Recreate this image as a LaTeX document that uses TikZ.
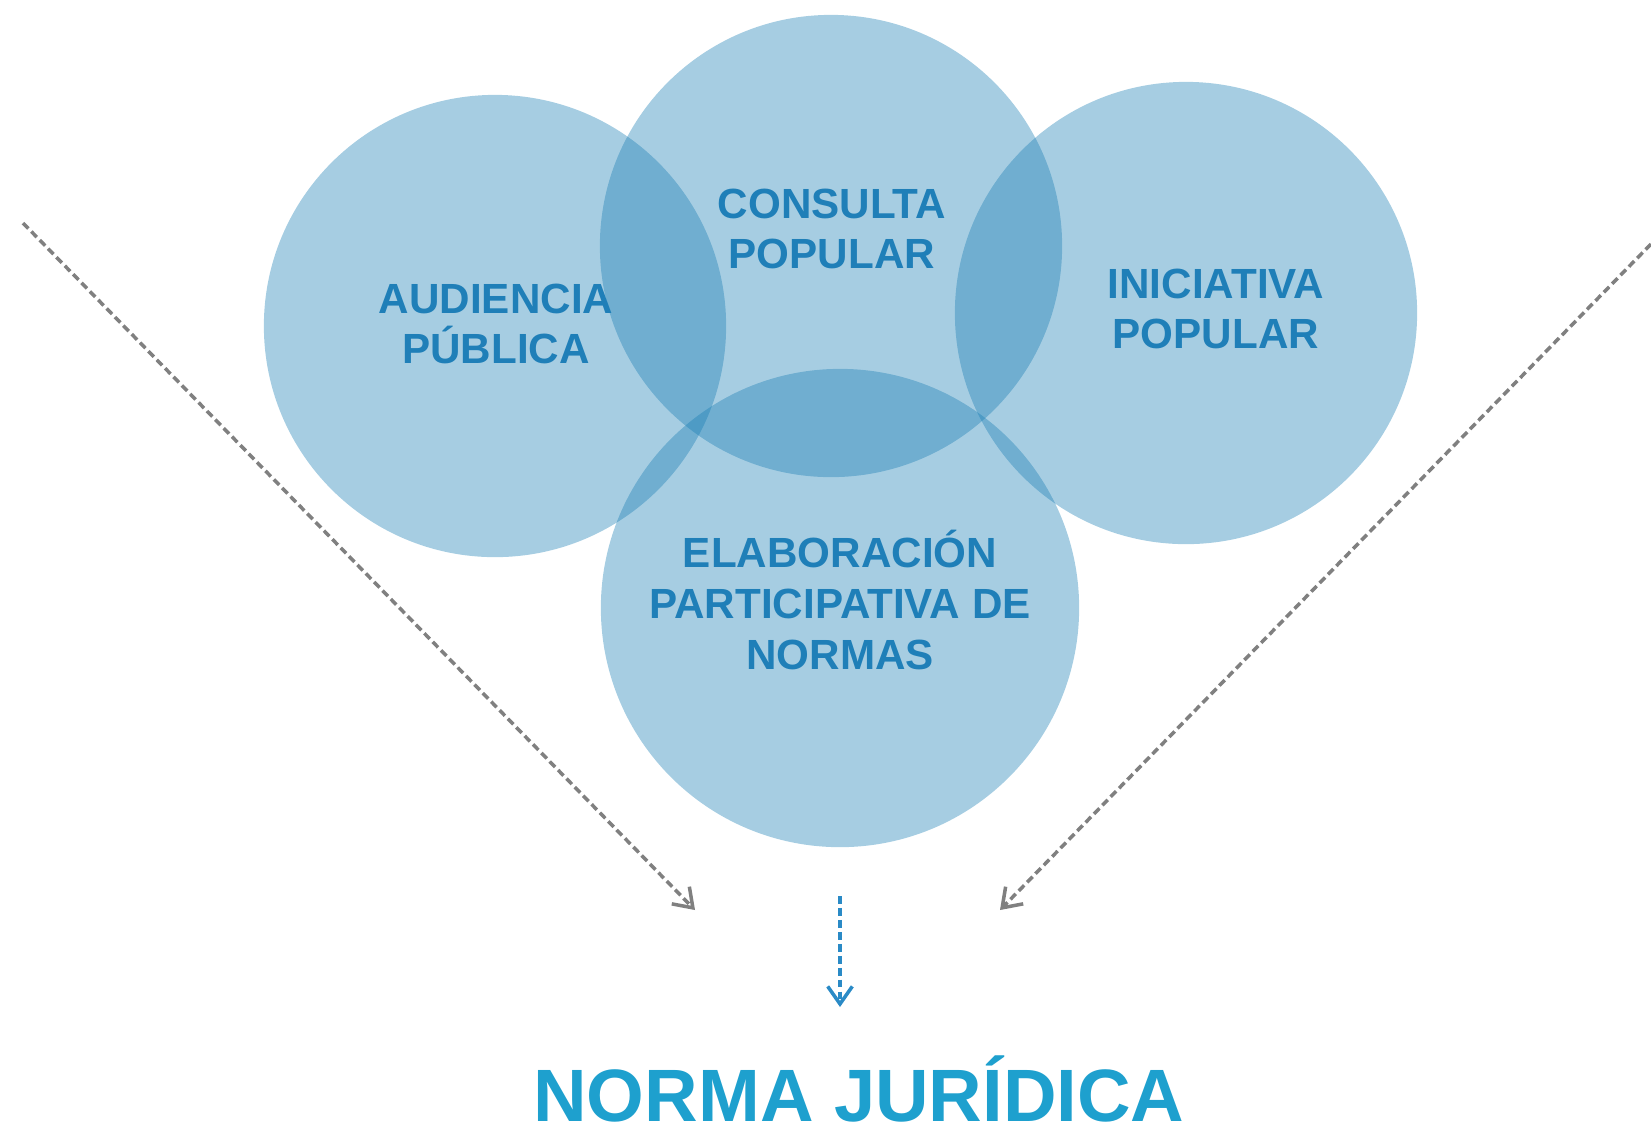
\documentclass[tikz,border=0pt]{standalone}
\usepackage{fontspec}
\setmainfont{Liberation Sans}
\usetikzlibrary{arrows.meta}
\usetikzlibrary{positioning}
\definecolor{circblue}{HTML}{167CB3}
\definecolor{labblue}{HTML}{1F7FB8}
\definecolor{titleblue}{HTML}{1EA0CE}
\definecolor{flowgray}{HTML}{808080}
\definecolor{flowblue}{HTML}{2A8AC6}

\begin{document}
\begin{tikzpicture}[x=0.01cm,y=-0.01cm,every node/.style={inner sep=0pt},
  circ/.style={circle,fill=circblue,fill opacity=0.38,minimum size=4.62cm},
  lab/.style={text=labblue,align=center,font=\fontsize{12}{14.4}\selectfont\bfseries},
  flow/.style={line width=1pt,dash pattern=on 2.2pt off 1.2pt,-{Straight Barb[length=5pt,width=7pt]}}]
  \useasboundingbox (0,0) rectangle (1651,1126);

  \node[circ] (aud) at (495,326){};
  \node[circ] (con) at (831,246){};
  \node[circ] (ini) at (1186,313){};
  \node[circ,minimum size=4.78cm] (ela) at (840,608){};

  \node[lab] (audtxt) at (496,324){AUDIENCIA\\PÚBLICA};
  \node[lab] (contxt) at (832,229){CONSULTA\\POPULAR};
  \node[lab] (initxt) at (1216,309){INICIATIVA\\POPULAR};
  \node[lab] (elatxt) at (840,600){ELABORACIÓN\\PARTICIPATIVA DE\\NORMAS};

  \node[anchor=base,text=titleblue,font=\fontsize{21.1}{26}\selectfont\bfseries] (norma) at (859,1121){NORMA JURÍDICA};

  \coordinate (lstart) at (23,223);
  \coordinate (lend) at (695,910);
  \coordinate (rstart) at (1651,244);
  \coordinate (rend) at (1000,910);
  \coordinate (cstart) at (840,896);
  \coordinate (cend) at (840,1007);

  \draw[flow,flowgray](lstart)--(lend);
  \draw[flow,flowgray](rstart)--(rend);
  \draw[flow,flowblue](cstart)--(cend);
\end{tikzpicture}
\end{document}
